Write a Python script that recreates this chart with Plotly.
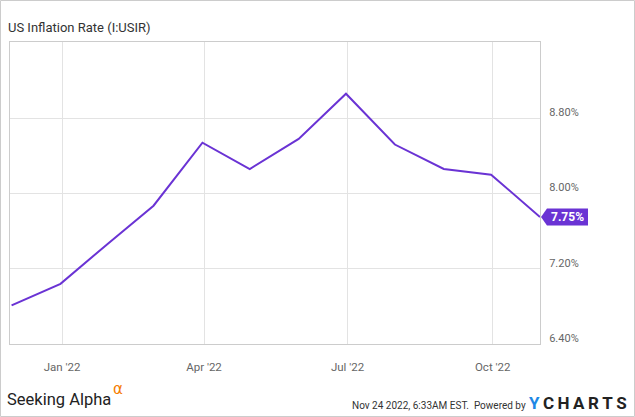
import plotly.graph_objects as go

dates = ["2021-11-30", "2021-12-31", "2022-01-31", "2022-02-28", "2022-03-31",
         "2022-04-30", "2022-05-31", "2022-06-30", "2022-07-31", "2022-08-31",
         "2022-09-30", "2022-10-31"]
values = [6.81, 7.04, 7.48, 7.87, 8.54, 8.26, 8.58, 9.06, 8.52, 8.26, 8.20, 7.75]

x_tick_vals = ["2022-01-01", "2022-04-01", "2022-07-01", "2022-10-01"]
x_tick_text = ["Jan '22", "Apr '22", "Jul '22", "Oct '22"]
y_tick_vals = [6.4, 7.2, 8.0, 8.8]
y_tick_text = ["6.40%", "7.20%", "8.00%", "8.80%"]

title_text = "US Inflation Rate (I:USIR)"
last_label = "7.75%"
purple = "#6a33d4"
W, H = 635, 417
L, R, T, B = 10, 95, 42, 73
pw = W - L - R
ph = H - T - B


def px_x(x):
    return (x - L) / pw


def px_y(y):
    return (H - B - y) / ph


fig = go.Figure()
fig.add_trace(go.Scatter(x=dates, y=values, mode="lines",
                         line=dict(color=purple, width=2), hoverinfo="skip",
                         cliponaxis=False))

fig.update_layout(
    width=W, height=H,
    margin=dict(l=L, r=R, t=T, b=B),
    paper_bgcolor="white", plot_bgcolor="white",
    showlegend=False,
    font=dict(family="Roboto", color="#666666", size=11),
    xaxis=dict(range=["2021-11-29", "2022-10-31"], tickvals=x_tick_vals,
               ticktext=x_tick_text, showgrid=True, gridcolor="#e3e3e3",
               gridwidth=1, zeroline=False, showline=True, linecolor="#cccccc",
               mirror=True, ticks="", ticklabelstandoff=12,
               tickfont=dict(size=11.5, color="#666666")),
    yaxis=dict(range=[6.4, 9.61], side="right", tickvals=y_tick_vals,
               ticktext=y_tick_text, showgrid=True, gridcolor="#e3e3e3",
               zeroline=False, showline=True, linecolor="#cccccc", mirror=True,
               ticks="", ticklabelstandoff=6, ticklabelshift=-6,
               tickfont=dict(size=11, color="#666666")),
)

shapes = [
    dict(type="rect", xref="paper", yref="paper",
         x0=px_x(0.5), x1=px_x(W - 0.5), y0=px_y(H - 0.5), y1=px_y(0.5),
         line=dict(color="#cccccc", width=1), fillcolor="rgba(0,0,0,0)"),
    dict(type="path", xref="paper", yref="y", xsizemode="pixel", ysizemode="pixel",
         xanchor=1, yanchor=values[-1],
         path="M 1,0 L 7,8.5 L 48,8.5 L 48,-8.5 L 7,-8.5 Z",
         fillcolor=purple, line=dict(width=0), layer="above"),
]
fig.update_layout(shapes=shapes)

thin = "\u2009"
annotations = [
    dict(text=title_text, xref="paper", yref="paper", x=px_x(6), y=px_y(27),
         xanchor="left", yanchor="middle", showarrow=False,
         font=dict(family="Roboto", size=13, color="#333333")),
    dict(text="<b>" + last_label + "</b>", xref="paper", yref="y",
         x=px_x(567), y=values[-1], xanchor="center", yanchor="middle",
         showarrow=False, font=dict(family="Roboto", size=12, color="white")),
    dict(text="Seeking Alpha", xref="paper", yref="paper", x=px_x(5),
         y=px_y(399), xanchor="left", yanchor="middle", showarrow=False,
         font=dict(family="Roboto", size=16.5, color="#222222")),
    dict(text="α", xref="paper", yref="paper", x=px_x(111),
         y=px_y(389), xanchor="left", yanchor="middle", showarrow=False,
         font=dict(family="DejaVu Sans", size=15, color="#f57c00")),
    dict(text="Nov 24 2022, 6:33AM EST.  Powered by", xref="paper", yref="paper",
         x=px_x(528), y=px_y(405), xanchor="right", yanchor="middle",
         showarrow=False, font=dict(family="Roboto", size=10, color="#333333")),
    dict(text="<b><span style='color:#1e88e5'>Y</span>" + thin +
              thin.join("CHARTS") + "</b>", xref="paper",
         yref="paper", x=px_x(527), y=px_y(403), xanchor="left",
         yanchor="middle", showarrow=False,
         font=dict(family="Roboto", size=17, color="#222222")),
]
fig.update_layout(annotations=annotations)

fig.write_html("out.html", config={"displayModeBar": False},
               post_script="document.body.style.margin='0';document.body.style.padding='0';")
